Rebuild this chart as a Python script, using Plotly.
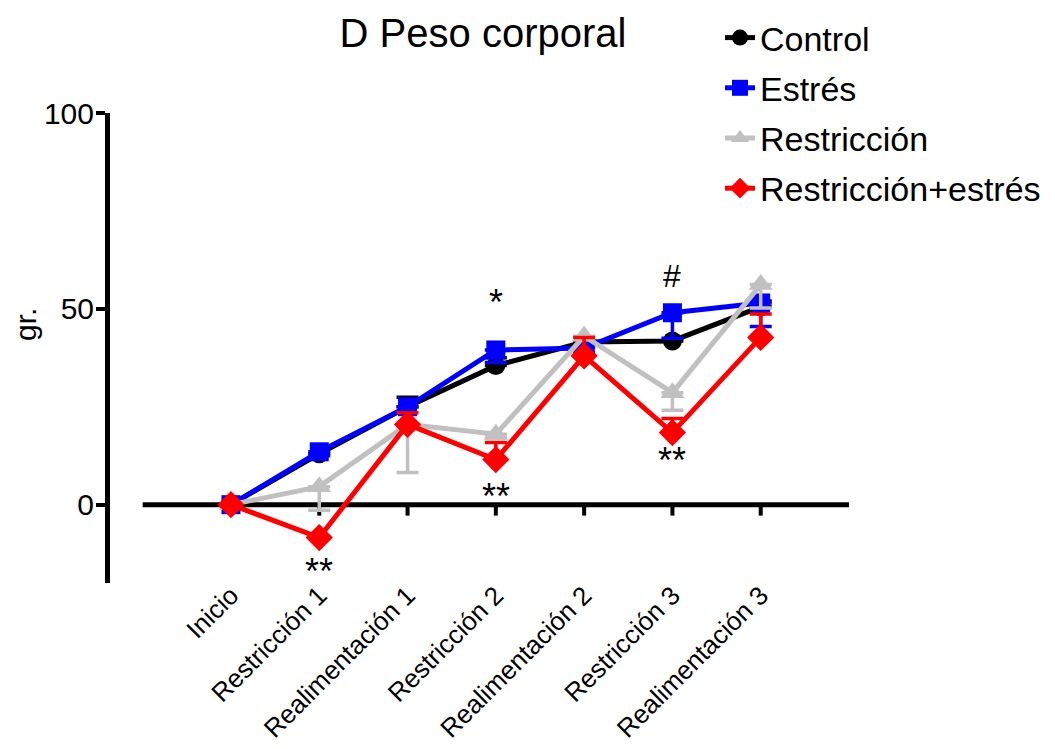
import plotly.graph_objects as go

categories = ["Inicio", "Restricción 1", "Realimentación 1", "Restricción 2",
              "Realimentación 2", "Restricción 3", "Realimentación 3"]

control = [0, 13.0, 25.0, 35.5, 41.5, 41.8, 50.5]
control_up = [0, 0, 2.4, 2.0, 0, 0, 1.5]
control_dn = [0, 0, 0, 0, 0, 0, 0]

estres = [0, 13.5, 25.0, 39.5, 40.0, 49.0, 51.5]
estres_up = [0, 0, 0, 0, 0, 0, 0]
estres_dn = [0, 1.0, 0, 3.2, 1.0, 6.5, 6.0]

restriccion = [0, 4.6, 20.5, 18.0, 43.0, 28.6, 56.2]
restriccion_up = [0, 0, 0, 0, 0, 0, 0]
restriccion_dn = [0, 6.0, 12.3, 1.0, 0, 4.5, 6.0]

restr_estres = [0, -8.4, 20.5, 11.5, 38.0, 18.4, 42.7]
restr_estres_up = [0, 0, 3.0, 4.4, 4.7, 3.6, 6.0]
restr_estres_dn = [0, 0, 0, 0, 0, 0, 0]

sig_text = ["**", "**", "*", "#", "**"]
sig_x = ["Restricción 1", "Restricción 2", "Restricción 2", "Restricción 3", "Restricción 3"]
sig_y = [-17.0, 2.2, 51.7, 58.5, 11.2]

yticks = [0, 50, 100]

FONT = "Liberation Sans, Arial, sans-serif"

# page body adds an 8px offset; work in figure coordinates
W, H = 1047, 741
L, T, R, B = 102, 105, 206, 166
PW, PH = W - L - R, H - T - B

series = [
    ("Control", control, control_up, control_dn, "black", "circle", 19),
    ("Estrés", estres, estres_up, estres_dn, "#0000ff", "square", 19),
    ("Restricción", restriccion, restriccion_up, restriccion_dn, "#c0c0c0", "triangle-up", 21),
    ("Restricción+estrés", restr_estres, restr_estres_up, restr_estres_dn, "#ff0000", "diamond", 21),
]

fig = go.Figure()

# x axis line at y=0 and its ticks
fig.add_shape(type="line", xref="x", yref="y", x0=-1, x1=7, y0=0, y1=0,
              line=dict(color="black", width=5), layer="below")
for c in categories:
    fig.add_shape(type="line", xref="x", yref="y", x0=c, x1=c, y0=0, y1=-2.8,
                  line=dict(color="black", width=4), layer="below")

for i, (name, vals, up, dn, color, sym, size) in enumerate(series):
    fig.add_trace(go.Scatter(
        x=categories, y=vals, name=name, mode="lines+markers",
        legendgroup=f"g{i}",
        line=dict(color=color, width=5),
        marker=dict(color=color, symbol=sym, size=size),
        error_y=dict(type="data", symmetric=False, array=up, arrayminus=dn,
                     color=color, thickness=3.5, width=11),
    ))

for t, x, y in zip(sig_text, sig_x, sig_y):
    fig.add_annotation(x=x, y=y, xref="x", yref="y", text=t, showarrow=False,
                       font=dict(size=36 if t != "#" else 32, color="black", family=FONT))

# y-axis title
fig.add_annotation(x=(25 - 8 - L) / PW, y=(H - B - (325 - 8)) / PH, xref="paper", yref="paper",
                   text="gr.", showarrow=False, textangle=-90,
                   xanchor="center", yanchor="middle",
                   font=dict(size=30, family=FONT, color="black"))

fig.update_layout(
    width=W, height=H,
    margin=dict(l=L, r=R, t=T, b=B, autoexpand=False),
    paper_bgcolor="white", plot_bgcolor="white",
    font=dict(family=FONT, color="black"),
    title=dict(text="D Peso corporal", x=(483 - 8) / W, xanchor="center",
               y=1 - (33 - 8) / H, yanchor="middle", font=dict(size=40, family=FONT)),
    legend=dict(x=(712 - L) / PW, y=(H - B - 1) / PH, xanchor="left", yanchor="top",
                font=dict(size=34, family=FONT), bgcolor="rgba(0,0,0,0)",
                tracegroupgap=3, itemwidth=30),
    showlegend=True,
)

fig.update_xaxes(type="category", range=[-1.37, 7], showline=False, showgrid=False,
                 zeroline=False, ticks="", tickangle=-45, automargin=False,
                 ticklabelstandoff=-9,
                 tickfont=dict(size=26, family=FONT))
fig.update_yaxes(range=[-20, 100], tickvals=yticks, showline=True, linewidth=5,
                 linecolor="black", ticks="outside", ticklen=9, tickwidth=4,
                 tickcolor="black", showgrid=False, zeroline=False, automargin=False,
                 ticklabelstandoff=-4,
                 tickfont=dict(size=30, family=FONT))

fig.write_html("out.html")
